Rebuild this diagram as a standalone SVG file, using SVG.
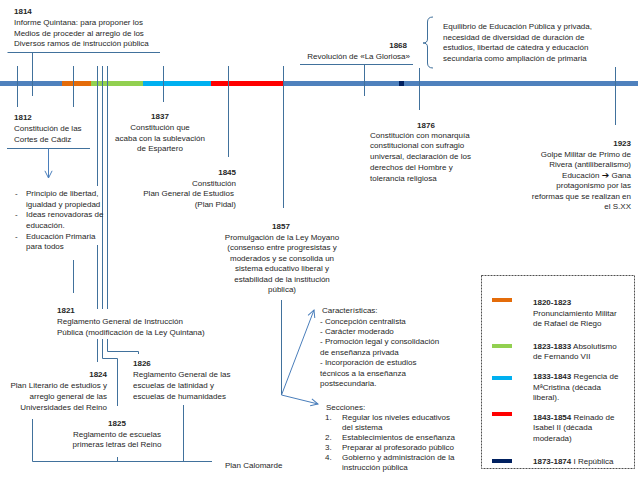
<svg xmlns="http://www.w3.org/2000/svg" width="638" height="479" viewBox="0 0 638 479">
<defs>
<style>
text{font-family:"Liberation Sans",Arial,sans-serif;font-size:8px;fill:#262626}
.b{font-weight:bold}
.m{text-anchor:middle}
.e{text-anchor:end}
.ln{stroke:#41719c;stroke-width:1;fill:none}
.ar{stroke:#4a7ebb;stroke-width:1;fill:none}
.sw{stroke:none}
</style>
<marker id="ah" viewBox="0 0 10 10" refX="9" refY="5" markerWidth="9" markerHeight="9" orient="auto" markerUnits="userSpaceOnUse">
<path d="M1,1 L9,5 L1,9" fill="none" stroke="#4a7ebb" stroke-width="1.1"/>
</marker>
</defs>
<rect width="638" height="479" fill="#fff"/>

<g id="timeline">
<rect x="0" y="81" width="638" height="5" fill="#4f81bd"/>
<rect x="62" y="81" width="29" height="5" fill="#e46c0a"/>
<rect x="91" y="81" width="52" height="5" fill="#92d050"/>
<rect x="143" y="81" width="68" height="5" fill="#00b0f0"/>
<rect x="211" y="81" width="72" height="5" fill="#ff0000"/>
<rect x="399" y="81" width="5" height="5" fill="#002060"/>
</g>

<g id="connectors">
<path class="ln" d="M7.5,52.5 H160 M32.5,52.5 V96"/>
<path class="ln" d="M17.5,66 V107"/>
<path class="ln" d="M73.5,66 V107 M73.5,260 V293"/>
<path class="ln" d="M7,148.5 H90"/>
<path class="ar" d="M48.5,148.5 V178" marker-end="url(#ah)"/>
<path class="ln" d="M97.5,66 V186 M97.5,245 V309 M97.5,339 V362"/>
<path class="ln" d="M102.5,66 V309 M102.5,339 V358.5 H117.5 V406"/>
<path class="ln" d="M107.5,66 V309 M107.5,339 V351.5 H138.5 V354"/>
<path class="ln" d="M163.5,66 V102"/>
<path class="ln" d="M228.5,66 V157"/>
<path class="ln" d="M283.5,66 V208"/>
<path class="ln" d="M300,64.5 H413 M364.5,64.5 V96"/>
<path class="ln" d="M419.5,68 V110"/>
<path class="ln" d="M615.5,67 V125"/>
<path class="ln" d="M433,17 Q427.5,17 427.5,22 V39 Q427.5,43 423,43 Q427.5,43 427.5,47 V63 Q427.5,68 433,68" stroke="#5a6f88"/>
<path class="ln" d="M281.5,300 V395"/>
<path class="ar" d="M281.5,395 L314,310" marker-end="url(#ah)"/>
<path class="ar" d="M281.5,395 L318,404" marker-end="url(#ah)"/>
<path class="ln" d="M32.5,419 V461.5 H212 M183.5,405 V461 M117.5,457 V461"/>
</g>

<g id="n1814">
<text x="14" y="14" class="b">1814</text>
<text x="14" y="25">Informe Quintana: para proponer los</text>
<text x="14" y="35.5">Medios de proceder al arreglo de los</text>
<text x="14" y="46">Diversos ramos de instrucción pública</text>
</g>

<g id="n1868">
<text x="407" y="48" class="b e">1868</text>
<text x="410" y="58.5" class="e">Revolución de «La Gloriosa»</text>
</g>

<g id="n1868b">
<text x="443" y="29">Equilibrio de Educación Pública y privada,</text>
<text x="443" y="39.5">necesidad de diversidad de duración de</text>
<text x="443" y="50">estudios, libertad de cátedra y educación</text>
<text x="443" y="61">secundaria como ampliación de primaria</text>
</g>

<g id="n1812">
<text x="14" y="120" class="b">1812</text>
<text x="14" y="131">Constitución de las</text>
<text x="14" y="142">Cortes de Cádiz</text>
</g>

<g id="n1812list">
<text x="15" y="196">-</text>
<text x="26" y="196">Principio de libertad,</text>
<text x="26" y="207">igualdad y propiedad</text>
<text x="15" y="217">-</text>
<text x="26" y="217">Ideas renovadoras de</text>
<text x="26" y="228">educación.</text>
<text x="15" y="239">-</text>
<text x="26" y="239">Educación Primaria</text>
<text x="26" y="249">para todos</text>
</g>

<g id="n1837">
<text x="160" y="119" class="b m">1837</text>
<text x="160" y="130" class="m">Constitución que</text>
<text x="160" y="140.5" class="m">acaba con la sublevación</text>
<text x="160" y="151" class="m">de Espartero</text>
</g>

<g id="n1845">
<text x="236" y="175" class="b e">1845</text>
<text x="236" y="185.5" class="e">Constitución</text>
<text x="234" y="196" class="e">Plan General de Estudios</text>
<text x="236" y="207" class="e">(Plan Pidal)</text>
</g>

<g id="n1857">
<text x="281" y="229" class="b m">1857</text>
<text x="282" y="239.5" class="m">Promulgación de la Ley Moyano</text>
<text x="282" y="250" class="m">(consenso entre progresistas y</text>
<text x="282" y="260.5" class="m">moderados y se consolida un</text>
<text x="282" y="271" class="m">sistema educativo liberal y</text>
<text x="282" y="281.5" class="m">estabilidad de la institución</text>
<text x="282" y="292" class="m">pública)</text>
</g>

<g id="n1876">
<text x="426" y="128" class="b m">1876</text>
<text x="370" y="137.5">Constitución con monarquía</text>
<text x="370" y="148">constitucional con sufragio</text>
<text x="370" y="159">universal, declaración de los</text>
<text x="370" y="170">derechos del Hombre y</text>
<text x="370" y="181">tolerancia religiosa</text>
</g>

<g id="n1923">
<text x="631" y="146" class="b e">1923</text>
<text x="631" y="156.5" class="e">Golpe Militar de Primo de</text>
<text x="631" y="167" class="e">Rivera (antiliberalismo)</text>
<text x="631" y="177.5" class="e">Educación <tspan font-family="DejaVu Sans" font-size="9" font-weight="bold" fill="#111">➔</tspan> Gana</text>
<text x="631" y="188" class="e">protagonismo por las</text>
<text x="631" y="198.5" class="e">reformas que se realizan en</text>
<text x="631" y="209" class="e">el S.XX</text>
</g>

<g id="n1821">
<text x="57" y="313" class="b">1821</text>
<text x="57" y="324">Reglamento General de Instrucción</text>
<text x="57" y="335">Pública (modificación de la Ley Quintana)</text>
</g>

<g id="n1826">
<text x="133" y="366" class="b">1826</text>
<text x="133" y="377">Reglamento General de las</text>
<text x="133" y="388">escuelas de latinidad y</text>
<text x="133" y="399">escuelas de humanidades</text>
</g>

<g id="n1824">
<text x="107" y="377" class="b e">1824</text>
<text x="107" y="388" class="e">Plan Literario de estudios y</text>
<text x="107" y="399" class="e">arreglo general de las</text>
<text x="107" y="410" class="e">Universidades del Reino</text>
</g>

<g id="n1825">
<text x="117" y="426" class="b m">1825</text>
<text x="117" y="436.5" class="m">Reglamento de escuelas</text>
<text x="117" y="447" class="m">primeras letras del Reino</text>
</g>

<g id="calomarde">
<text x="225" y="468">Plan Calomarde</text>
</g>

<g id="caracteristicas">
<text x="322" y="313">Características:</text>
<text x="320" y="323.5">- Concepción centralista</text>
<text x="320" y="334">- Carácter moderado</text>
<text x="320" y="344">- Promoción legal y consolidación</text>
<text x="320" y="354.5">de enseñanza privada</text>
<text x="320" y="365">- Incorporación de estudios</text>
<text x="320" y="375.5">técnicos a la enseñanza</text>
<text x="320" y="386">postsecundaria.</text>
</g>

<g id="secciones">
<text x="326" y="410">Secciones:</text>
<text x="325" y="420">1.</text>
<text x="342" y="420">Regular los niveles educativos</text>
<text x="342" y="430">del sistema</text>
<text x="325" y="440">2.</text>
<text x="342" y="440">Establecimientos de enseñanza</text>
<text x="325" y="450">3.</text>
<text x="342" y="450">Preparar al profesorado público</text>
<text x="325" y="460">4.</text>
<text x="342" y="460">Gobierno y administración de la</text>
<text x="342" y="470">instrucción pública</text>
</g>

<g id="legend">
<rect x="481.5" y="275.5" width="153" height="193" fill="none" stroke="#222" stroke-width="0.8" stroke-dasharray="2,1"/>
<rect class="sw" x="492" y="298" width="20" height="4" fill="#e46c0a"/>
<text x="533" y="305" class="b">1820-1823</text>
<text x="533" y="316">Pronunciamiento Militar</text>
<text x="533" y="326">de Rafael de Riego</text>
<rect class="sw" x="492" y="344" width="20" height="4" fill="#92d050"/>
<text x="533" y="349"><tspan class="b">1823-1833</tspan> Absolutismo</text>
<text x="533" y="359">de Fernando VII</text>
<rect class="sw" x="492" y="376" width="20" height="4" fill="#00b0f0"/>
<text x="533" y="379"><tspan class="b">1833-1843</tspan> Regencia de</text>
<text x="533" y="390">MªCristina (década</text>
<text x="533" y="400">liberal).</text>
<rect class="sw" x="492" y="412" width="20" height="4" fill="#ff0000"/>
<text x="533" y="420"><tspan class="b">1843-1854</tspan> Reinado de</text>
<text x="533" y="430">Isabel II (década</text>
<text x="533" y="441">moderada)</text>
<rect class="sw" x="492" y="459" width="20" height="4" fill="#002060"/>
<text x="533" y="464"><tspan class="b">1873-1874</tspan> I República</text>
</g>
</svg>
